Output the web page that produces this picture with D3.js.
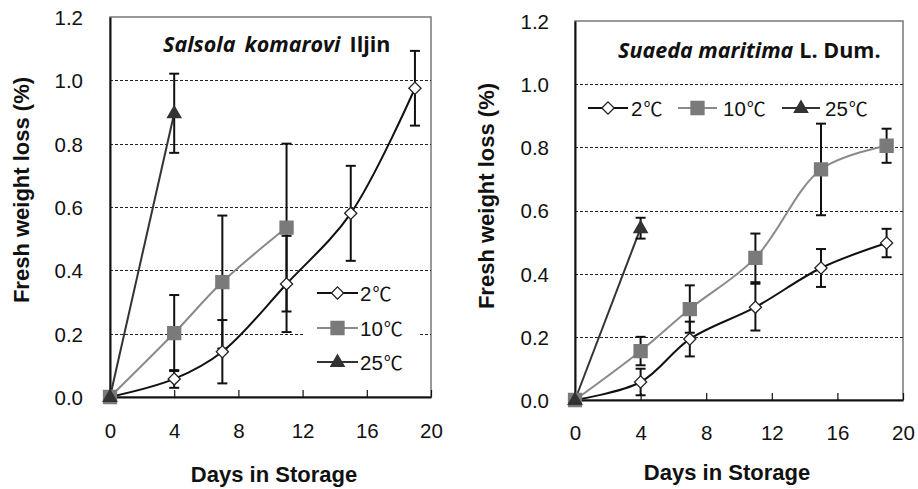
<!DOCTYPE html>
<html>
<head>
<meta charset="utf-8">
<script src="https://cdn.jsdelivr.net/npm/d3@7"></script>
<style>
  html, body { margin: 0; padding: 0; background: #fff; }
  svg { display: block; }
  text { font-family: "Liberation Sans", Arial, "Noto Sans CJK SC", sans-serif; fill: #111; }
</style>
</head>
<body>
<svg id="chart" width="918" height="489"></svg>
<script>
// ---------- data ----------
const xTicks = [0, 4, 8, 12, 16, 20];
const yTicks = [0, 0.2, 0.4, 0.6, 0.8, 1.0, 1.2];
const seriesNums = ["2", "10", "25"];
const unitLabel = "℃";

// Salsola komarovi Iljin
const salsolaDays2 = [0, 4, 7, 11, 15, 19];
const salsola2 = [0, 0.057, 0.143, 0.357, 0.58, 0.975];
const salsola2Err = [0, 0.028, 0.10, 0.152, 0.15, 0.118];
const salsolaDays10 = [0, 4, 7, 11];
const salsola10 = [0, 0.202, 0.363, 0.535];
const salsola10Err = [0, 0.12, 0.21, 0.265];
const salsolaDays25 = [0, 4];
const salsola25 = [0, 0.896];
const salsola25Err = [0, 0.125];

// Suaeda maritima L. Dum.
const suaedaDays2 = [0, 4, 7, 11, 15, 19];
const suaeda2 = [0, 0.057, 0.193, 0.294, 0.418, 0.497];
const suaeda2Err = [0, 0.042, 0.055, 0.074, 0.06, 0.045];
const suaedaDays10 = [0, 4, 7, 11, 15, 19];
const suaeda10 = [0, 0.155, 0.288, 0.45, 0.73, 0.805];
const suaeda10Err = [0, 0.045, 0.075, 0.077, 0.145, 0.054];
const suaedaDays25 = [0, 4];
const suaeda25 = [0, 0.544];
const suaeda25Err = [0, 0.033];

// ---------- styles ----------
const styles = [
  { line: "#111", marker: "diamond", fill: "#fff", stroke: "#222", smooth: true },
  { line: "#8a8a8a", marker: "square", fill: "#7a7a7a", stroke: "#7a7a7a", smooth: true },
  { line: "#333", marker: "triangle", fill: "#333", stroke: "#333", smooth: false }
];

const svg = d3.select("#chart");

function zip(days, vals, errs) {
  return days.map((d, i) => ({ x: d, y: vals[i], e: errs[i] }));
}

function markerPath(type) {
  if (type === "square") return d3.symbol(d3.symbolSquare, 169)();
  if (type === "triangle") return d3.symbol(d3.symbolTriangle, 78)();
  return d3.symbol(d3.symbolSquare, 74)();
}
function markerTransform(type, cx, cy) {
  if (type === "diamond") return `translate(${cx},${cy}) rotate(45)`;
  if (type === "triangle") return `translate(${cx},${cy + 0.5})`;
  return `translate(${cx},${cy})`;
}

function drawPanel(p) {
  const g = svg.append("g");
  const x = d3.scaleLinear().domain([0, 20]).range([p.x0, p.x1]);
  const y = d3.scaleLinear().domain([0, 1.2]).range([p.yb, p.yt]);

  g.append("rect")
    .attr("x", p.x0).attr("y", p.yt)
    .attr("width", p.x1 - p.x0).attr("height", p.yb - p.yt)
    .attr("fill", "#fff").attr("stroke", "#777").attr("stroke-width", 1.5);

  g.append("g").selectAll("line")
    .data(yTicks.filter(v => v > 0 && v < 1.2))
    .join("line")
    .attr("x1", p.x0).attr("x2", p.x1)
    .attr("y1", d => Math.round(y(d)) + 0.5).attr("y2", d => Math.round(y(d)) + 0.5)
    .attr("stroke", "#222").attr("stroke-width", 1).attr("stroke-dasharray", "3,2");

  if (p.legendBox) {
    g.append("rect").attr("x", p.legendBox[0]).attr("y", p.legendBox[1])
      .attr("width", p.legendBox[2]).attr("height", p.legendBox[3]).attr("fill", "#fff");
  }

  const xa = g.append("g").attr("transform", `translate(0,${p.yb})`)
    .call(d3.axisBottom(x).tickValues(xTicks).tickSizeInner(-7).tickSizeOuter(0).tickFormat(d3.format("d")));
  xa.select(".domain").attr("stroke", "#111").attr("stroke-width", 2);
  xa.selectAll(".tick line").attr("stroke", "#111").attr("stroke-width", 1.2);
  xa.selectAll(".tick text").attr("y", p.xLabelOff).attr("dy", 0)
    .style("font-size", "20.5px").style("font-family", "'Liberation Sans', Arial, sans-serif").attr("fill", "#111");

  const ya = g.append("g").attr("transform", `translate(${p.x0},0)`)
    .call(d3.axisLeft(y).tickValues(yTicks).tickSize(0).tickPadding(p.yLabelPad).tickFormat(d3.format(".1f")));
  ya.select(".domain").attr("stroke", "#111").attr("stroke-width", 2);
  ya.selectAll(".tick text").attr("dy", "0.36em")
    .style("font-size", "20.5px").style("font-family", "'Liberation Sans', Arial, sans-serif").attr("fill", "#111");

  p.series.forEach((s, i) => {
    const st = styles[i];
    const line = d3.line().x(d => x(d.x)).y(d => y(d.y))
      .curve(st.smooth ? d3.curveCatmullRom.alpha(0.5) : d3.curveLinear);
    g.append("path").datum(s).attr("d", line)
      .attr("fill", "none").attr("stroke", st.line).attr("stroke-width", 2);
  });

  p.series.forEach((s) => {
    const eb = g.append("g");
    s.filter(d => d.e > 0).forEach(d => {
      const cx = x(d.x);
      eb.append("line").attr("x1", cx).attr("x2", cx).attr("y1", y(d.y + d.e)).attr("y2", y(d.y - d.e))
        .attr("stroke", "#111").attr("stroke-width", 2);
      [d.y + d.e, d.y - d.e].forEach(v => {
        eb.append("line").attr("x1", cx - 5).attr("x2", cx + 5).attr("y1", y(v)).attr("y2", y(v))
          .attr("stroke", "#111").attr("stroke-width", 2);
      });
    });
  });

  p.series.forEach((s, i) => {
    const st = styles[i];
    g.append("g").selectAll("path").data(s).join("path")
      .attr("d", markerPath(st.marker))
      .attr("transform", d => markerTransform(st.marker, x(d.x), y(d.y)))
      .attr("fill", st.fill).attr("stroke", st.stroke).attr("stroke-width", 1.3);
  });

  p.legend.forEach((L, i) => {
    const st = styles[i];
    g.append("line").attr("x1", L.lx0).attr("x2", L.lx1).attr("y1", L.y).attr("y2", L.y)
      .attr("stroke", st.line).attr("stroke-width", 2);
    g.append("path").attr("d", markerPath(st.marker))
      .attr("transform", markerTransform(st.marker, (L.lx0 + L.lx1) / 2, L.y))
      .attr("fill", st.fill).attr("stroke", st.stroke).attr("stroke-width", 1.3);
    const tx = g.append("text").attr("x", L.tx).attr("y", L.y + 7.5).style("font-size", "20.5px");
    tx.append("tspan").text(seriesNums[i]);
    tx.append("tspan").style("font-family", "'Noto Sans CJK SC', 'Noto Sans CJK KR', sans-serif")
      .style("font-size", "19px").attr("dx", 1).text(unitLabel);
  });

  const t = g.append("text").attr("x", p.titleX).attr("y", p.titleY)
    .style("font-family", "'Open Sans', 'Noto Sans', sans-serif").style("font-size", p.titleSize + "px")
    .style("font-weight", "bold");
  p.title.forEach(part => {
    t.append("tspan").attr("dx", part.dx || 0).style("font-style", part.italic ? "italic" : "normal").text(part.text);
  });

  g.append("text").attr("x", p.xTitleX).attr("y", p.xTitleY).attr("text-anchor", "middle")
    .style("font-size", "22px").style("font-weight", "bold").text("Days in Storage");
  g.append("text").attr("transform", `translate(${p.yTitleX},${p.yTitleY}) rotate(-90)`)
    .attr("text-anchor", "middle")
    .style("font-size", "22px").style("font-weight", "bold").text("Fresh weight loss (%)");
}

drawPanel({
  x0: 110, x1: 431, yb: 397, yt: 17,
  xLabelOff: 41, yLabelPad: 27,
  series: [zip(salsolaDays2, salsola2, salsola2Err), zip(salsolaDays10, salsola10, salsola10Err), zip(salsolaDays25, salsola25, salsola25Err)],
  legendBox: [303, 279, 115, 99],
  legend: [
    { lx0: 317, lx1: 358, y: 293, tx: 360 },
    { lx0: 317, lx1: 358, y: 328, tx: 360 },
    { lx0: 317, lx1: 358, y: 362, tx: 360 }
  ],
  title: [{ text: "Salsola", italic: true }, { text: "komarovi", italic: true, dx: 9 }, { text: "Iljin", dx: 9 }],
  titleX: 163, titleY: 52, titleSize: 21.5,
  xTitleX: 274, xTitleY: 482, yTitleX: 29, yTitleY: 190
});

drawPanel({
  x0: 575, x1: 903, yb: 400, yt: 21,
  xLabelOff: 40, yLabelPad: 26,
  series: [zip(suaedaDays2, suaeda2, suaeda2Err), zip(suaedaDays10, suaeda10, suaeda10Err), zip(suaedaDays25, suaeda25, suaeda25Err)],
  legendBox: null,
  legend: [
    { lx0: 588, lx1: 628, y: 108, tx: 631 },
    { lx0: 678, lx1: 717, y: 108, tx: 723 },
    { lx0: 782, lx1: 820, y: 108, tx: 825 }
  ],
  title: [{ text: "Suaeda maritima", italic: true }, { text: "L. Dum.", dx: 6 }],
  titleX: 618, titleY: 58, titleSize: 21.5,
  xTitleX: 727, xTitleY: 480, yTitleX: 494, yTitleY: 196
});
</script>
</body>
</html>
